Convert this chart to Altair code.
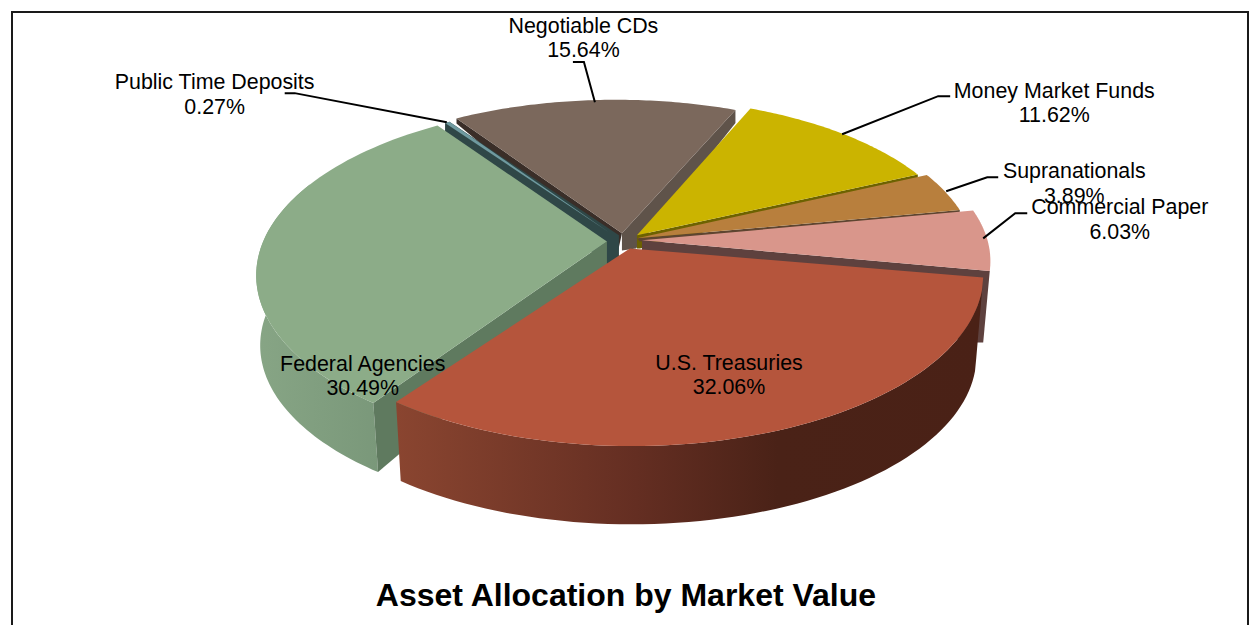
import altair as alt
import numpy as np
import pandas as pd

# ---- chart values ----
categories = ["Money Market Funds", "Supranationals", "Commercial Paper", "U.S. Treasuries",
              "Federal Agencies", "Public Time Deposits", "Negotiable CDs"]
shares = [11.62, 3.89, 6.03, 32.06, 30.49, 0.27, 15.64]
title_text = "Asset Allocation by Market Value"

# ---- view model of the tilted, exploded pie ----
START = 23.9
K, RX, RY = 0.14, 350.0, 168.0
edges = START + 360.0 * np.concatenate([[0], np.cumsum(shares)]) / sum(shares)

X0, X1, Y0, Y1 = 11.5, 1248.6, 11, 624
xs = alt.Scale(domain=[X0, X1], nice=False, zero=False)
ys = alt.Scale(domain=[Y1, Y0], nice=False, zero=False)


def rim(c, a0, a1, sx=1.0, sy=1.0, n=70):
    t = np.radians(np.linspace(a0, a1, n))
    u, v = np.sin(t), -np.cos(t)
    s = 1 / (1 - K * v)
    return list(zip(c[0] + sx * RX * u * s, c[1] + sy * RY * v * s))


def lower(pts, c, dy, f0=0.98, f1=0.98):
    fs = np.linspace(f0, f1, len(pts))
    return [(c[0] + f * (x - c[0]), c[1] + f * (y - c[1]) + dy) for (x, y), f in zip(pts, fs)]


def poly(pts, fill):
    df = pd.DataFrame(pts, columns=["x", "y"])
    df["i"] = range(len(df))
    return alt.Chart(df).mark_line(interpolate="linear-closed", filled=True, fill=fill,
                                   strokeWidth=0).encode(
        x=alt.X("x:Q", scale=xs, axis=None),
        y=alt.Y("y:Q", scale=ys, axis=None),
        order="i:Q",
    )


def seg(pts, color="#000000", w=2.0):
    df = pd.DataFrame(pts, columns=["x", "y"])
    df["i"] = range(len(df))
    return alt.Chart(df).mark_line(color=color, strokeWidth=w).encode(
        x=alt.X("x:Q", scale=xs, axis=None),
        y=alt.Y("y:Q", scale=ys, axis=None),
        order="i:Q",
    )


def text(rows, size, weight="normal"):
    df = pd.DataFrame(rows, columns=["x", "y", "t"])
    return alt.Chart(df).mark_text(font="Liberation Sans", fontSize=size, fontWeight=weight,
                                   color="#000000", align="center", baseline="middle").encode(
        x=alt.X("x:Q", scale=xs, axis=None),
        y=alt.Y("y:Q", scale=ys, axis=None),
        text="t:N",
    )


ang = {c: (edges[i], edges[i + 1]) for i, c in enumerate(categories)}
layers = []

# frame
layers.append(seg([(X0 + 1, Y1), (X0 + 1, Y0 + 1), (X1 - 1, Y0 + 1), (X1 - 1, Y1)], "#1a1a1a", 2))

# Negotiable CDs
a = ang["Negotiable CDs"]
c = (622, 233)
r = rim((616, 233), a[0], a[1], 0.95, 0.905)
layers.append(poly([r[0], (r[0][0], r[0][1] + 5), (617, 256), c], "#3a2e28"))
layers.append(poly([c, r[-1], (r[-1][0], r[-1][1] + 13), (636, 248), (622, 250)], "#5f534a"))
layers.append(poly([c] + r, "#7b685c"))

# Public Time Deposits
a = ang["Public Time Deposits"]
c = (609, 232)
r = rim(c, a[0], a[1], 0.95, 0.87, 6)
layers.append(poly([r[0], (r[0][0], r[0][1] + 9), (607, 264), (619, 262), (619, 235), r[-1]], "#2f4747"))
layers.append(poly([c] + r, "#6f9aa0"))

# Money Market Funds
a = ang["Money Market Funds"]
c = (637, 235)
r = rim((631, 235), a[0], a[1], 0.95, 0.93)
layers.append(poly([c, r[-1], (r[-1][0], r[-1][1] + 4), (640, 248), (637, 248)], "#6d6200"))
layers.append(poly([c] + r, "#cbb400"))

# Supranationals
a = ang["Supranationals"]
c = (637, 238)
r = rim(c, a[0], a[1], 0.96, 0.97)
layers.append(poly([c, r[-1], (r[-1][0], r[-1][1] + 3), (640, 241)], "#5e4530"))
layers.append(poly([c] + r, "#b87f3d"))

# Commercial Paper
a = ang["Commercial Paper"]
c = (642, 240)
r = rim((642, 238), a[0], a[1], 0.985, 0.95)
layers.append(poly([c, r[-1], (983, 342), (975, 342), (642, 272)], "#5e413e"))
layers.append(poly([c] + r, "#d9968b"))

# Federal Agencies
a = ang["Federal Agencies"]
c = (610, 251)
ap = (607, 241)
r = rim(c, a[0], a[1])
wall = rim(c, a[0], a[0] + 78)
bot = lower(wall, c, 72, 0.98, 0.995)
layers.append(poly(wall + bot[::-1], alt.Gradient(
    gradient="linear", x1=1, x2=0, y1=0, y2=0,
    stops=[alt.GradientStop(offset=0, color="#7a987a"), alt.GradientStop(offset=1, color="#87a585")])))
layers.append(poly([ap, r[0], bot[0], (607, 278)], "#5f7a5f"))
layers.append(poly([ap] + r, "#8cac88"))

# U.S. Treasuries
a = ang["U.S. Treasuries"]
c = (631.5, 250)
r = rim(c, a[0], a[1], 0.995, 1.0)
r[0] = (983, 277)
bot = lower(r, c, 82)
layers.append(poly(r + bot[::-1], alt.Gradient(
    gradient="linear", x1=1, x2=0, y1=0, y2=0,
    stops=[alt.GradientStop(offset=0, color="#4a2116"),
           alt.GradientStop(offset=0.35, color="#4a2217"),
           alt.GradientStop(offset=0.59, color="#642e22"),
           alt.GradientStop(offset=1, color="#8a4530")])))
layers.append(poly([(630, 248)] + r, "#b5553c"))

# leader lines
layers.append(seg([(573, 62), (584, 62), (595, 102)]))
layers.append(seg([(285, 93), (295, 93), (447, 122)]))
layers.append(seg([(950, 96), (938, 96), (842, 134)]))
layers.append(seg([(998, 177), (987, 177), (946, 191)]))
layers.append(seg([(1027, 213), (1015, 213), (983, 238)]))

# labels
pos = {
    "Negotiable CDs": (583.5, 26.5), "Public Time Deposits": (215, 83), "Money Market Funds": (1054, 91.5),
    "Supranationals": (1074, 172), "Commercial Paper": (1119.5, 208), "U.S. Treasuries": (729, 363),
    "Federal Agencies": (363, 364),
}
rows = []
for cat, sh in zip(categories, shares):
    x, y = pos[cat]
    rows.append((x, y, cat))
    rows.append((x, y + 24.5, f"{sh:.2f}%"))
layers.append(text(rows, 21.4))
layers.append(text([(626, 595, title_text)], 32, "bold"))

chart = alt.layer(*layers).properties(
    width=1244, height=621, background="#ffffff",
    padding={"left": 0, "right": 0, "top": 0, "bottom": 0},
    autosize=alt.AutoSizeParams(type="fit", contains="padding"),
).configure_view(stroke=None)

chart.save("out.html", embed_options={"renderer": "svg", "actions": False})
